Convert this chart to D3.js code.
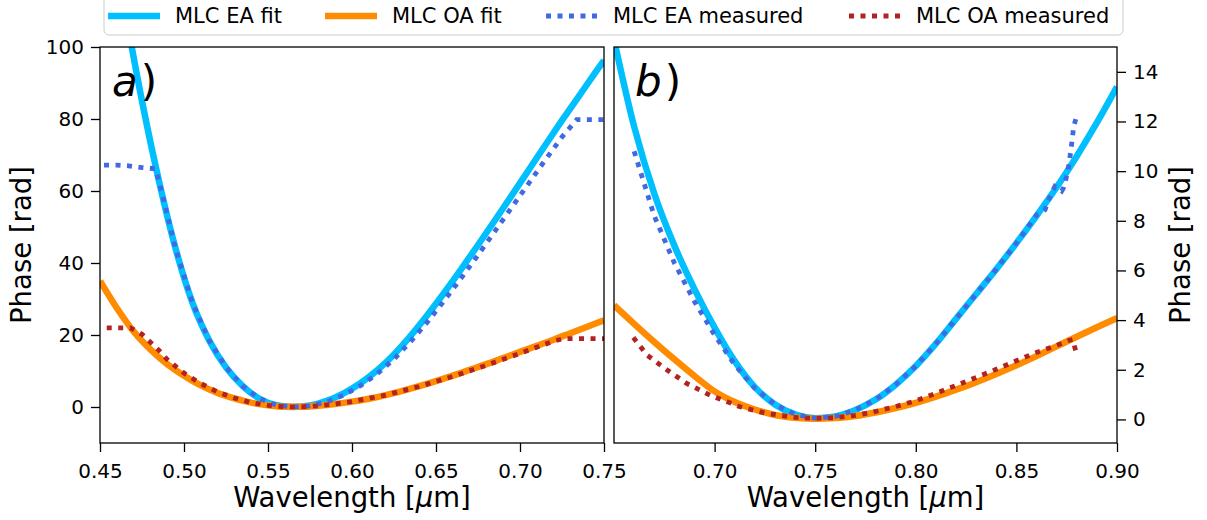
<!DOCTYPE html>
<html>
<head>
<meta charset="utf-8">
<script src="https://cdn.jsdelivr.net/npm/d3@7"></script>
<style>
  body { margin: 0; background: #fff; }
  svg { display: block; font-family: "DejaVu Sans", sans-serif; }
</style>
</head>
<body>
<div id="chart"></div>
<script>
// panel a) data, wavelength in um, phase in rad
const wlEaFitA = [0.45, 0.455, 0.465, 0.475, 0.485, 0.495, 0.505, 0.515, 0.525, 0.535, 0.545, 0.555, 0.565,
  0.575, 0.585, 0.595, 0.605, 0.615, 0.625, 0.635, 0.645, 0.655, 0.665, 0.675, 0.685, 0.695, 0.705, 0.715,
  0.725, 0.735, 0.745, 0.75];
const eaFitA = [165, 137, 110, 85, 63, 44, 29, 18.5, 11, 5.8, 2.3, 0.5, 0,
  0.4, 1.7, 3.8, 6.6, 10.2, 14.6, 19.8, 25.6, 31.8, 38.3, 45, 51.8, 58.7, 65.7, 72.7,
  79.6, 86.3, 93.0, 96.3];

const wlOaFitA = [0.45, 0.46, 0.47, 0.48, 0.49, 0.50, 0.51, 0.52, 0.53, 0.54, 0.55, 0.56, 0.57, 0.58, 0.59, 0.60,
  0.61, 0.62, 0.63, 0.64, 0.65, 0.66, 0.67, 0.68, 0.69, 0.70, 0.71, 0.72, 0.73, 0.74, 0.75];
const oaFitA = [35, 27.5, 21, 16.0, 11.9, 8.7, 6.0, 3.9, 2.4, 1.2, 0.45, 0.05, 0.05, 0.35, 0.85, 1.5,
  2.3, 3.3, 4.5, 5.8, 7.2, 8.7, 10.3, 11.9, 13.6, 15.3, 17.0, 18.7, 20.5, 22.3, 24.1];

const wlEaMeasA = [0.4524, 0.46, 0.467, 0.475, 0.4827, 0.485, 0.495, 0.505, 0.515, 0.525, 0.535, 0.545, 0.555, 0.565,
  0.575, 0.585, 0.595, 0.605, 0.615, 0.625, 0.635, 0.645, 0.655, 0.665, 0.675, 0.685, 0.695, 0.705, 0.715,
  0.725, 0.7337, 0.75];
const eaMeasA = [67.2, 67.2, 67, 66.5, 66.2, 63, 44, 29, 18.5, 11, 5.8, 2.3, 0.5, 0,
  0.3, 1.4, 3.3, 5.9, 9.2, 13.3, 18.2, 23.7, 29.6, 35.8, 42.2, 48.8, 55.4, 62.0, 68.6,
  75.0, 79.8, 79.8];

const wlOaMeasA = [0.454, 0.46, 0.468, 0.475, 0.48, 0.485, 0.49, 0.50, 0.51, 0.52, 0.53, 0.54, 0.55, 0.56, 0.57, 0.58,
  0.59, 0.60, 0.62, 0.64, 0.66, 0.68, 0.70, 0.71, 0.72, 0.726, 0.75];
const oaMeasA = [22, 22, 22, 20.2, 18, 15.8, 13.2, 9.4, 6.5, 4.2, 2.5, 1.2, 0.45, 0.05, 0.05, 0.35,
  0.85, 1.5, 3.3, 5.7, 8.5, 11.6, 14.9, 16.6, 18.3, 19, 19];

// panel b) data
const wlFitB = [0.65, 0.66, 0.67, 0.68, 0.69, 0.70, 0.71, 0.72, 0.73, 0.74, 0.75, 0.76, 0.77, 0.78, 0.79, 0.80,
  0.81, 0.82, 0.83, 0.84, 0.85, 0.86, 0.87, 0.88, 0.89, 0.90];
const eaFitB = [15.3, 11.8, 9.1, 7.0, 5.25, 3.7, 2.35, 1.3, 0.6, 0.2, 0.05, 0.12, 0.38, 0.8, 1.4, 2.15,
  3.05, 4.05, 5.05, 6.05, 7.1, 8.2, 9.35, 10.6, 11.95, 13.4];
const oaFitB = [4.6, 3.85, 3.12, 2.42, 1.75, 1.13, 0.7, 0.4, 0.18, 0.07, 0.03, 0.06, 0.14, 0.28, 0.46, 0.67,
  0.92, 1.2, 1.5, 1.83, 2.18, 2.55, 2.94, 3.33, 3.71, 4.08];

const wlEaMeasB = [0.66, 0.67, 0.68, 0.69, 0.70, 0.71, 0.72, 0.73, 0.74, 0.75, 0.76, 0.77, 0.78, 0.79, 0.80,
  0.81, 0.82, 0.83, 0.84, 0.85, 0.8601, 0.8642, 0.8667, 0.8691, 0.8725, 0.8733, 0.8749, 0.8762, 0.8774, 0.8785, 0.8798];
const eaMeasB = [10.8, 8.2, 6.3, 4.75, 3.4, 2.2, 1.25, 0.6, 0.2, 0.05, 0.12, 0.38, 0.8, 1.4, 2.15,
  3.05, 4.05, 5.05, 6.05, 7.1, 8.24, 8.44, 8.98, 9.38, 9.2, 9.31, 9.78, 10.3, 11.06, 11.8, 12.18];

const wlOaMeasB = [0.6596, 0.6663, 0.6762, 0.6861, 0.6977, 0.7126, 0.7258, 0.74, 0.75, 0.76, 0.77, 0.78, 0.79, 0.80,
  0.81, 0.82, 0.83, 0.84, 0.85, 0.86, 0.87, 0.876, 0.878, 0.8798];
const oaMeasB = [3.3, 2.6, 2.0, 1.45, 0.98, 0.51, 0.24, 0.08, 0.04, 0.07, 0.16, 0.32, 0.52, 0.75,
  1.05, 1.37, 1.69, 2.02, 2.36, 2.7, 2.98, 3.18, 3.22, 2.66];

// ticks
const xTicksA = [0.45, 0.50, 0.55, 0.60, 0.65, 0.70, 0.75];
const yTicksA = [0, 20, 40, 60, 80, 100];
const xTicksB = [0.70, 0.75, 0.80, 0.85, 0.90];
const yTicksB = [0, 2, 4, 6, 8, 10, 12, 14];

const legendNames = ['MLC EA fit', 'MLC OA fit', 'MLC EA measured', 'MLC OA measured'];
const colors = { ea: '#00bfff', oa: '#ff8c00', eaMeas: '#4169e1', oaMeas: '#b22222' };

const W = 1207, H = 520;
const plotTop = 47, plotBottom = 443;
const fitWidth = 6.5, measWidth = 4.8, dots = '5 6.5';

const svg = d3.select('#chart').append('svg')
  .attr('width', W).attr('height', H);

const zip = (xs, ys) => xs.map((x, i) => ({ x: x, y: ys[i] }));

function drawPanel(cfg) {
  const x = d3.scaleLinear().domain(cfg.xDomain).range(cfg.xRange);
  const y = d3.scaleLinear().domain(cfg.yDomain).range([plotBottom, plotTop]);

  const g = svg.append('g');
  g.append('clipPath').attr('id', 'clip-' + cfg.id)
    .append('rect')
    .attr('x', cfg.xRange[0]).attr('y', plotTop)
    .attr('width', cfg.xRange[1] - cfg.xRange[0]).attr('height', plotBottom - plotTop);

  const plot = g.append('g').attr('clip-path', `url(#clip-${cfg.id})`);
  const smooth = d3.line().x(d => x(d.x)).y(d => y(d.y)).curve(d3.curveMonotoneX);
  const straight = d3.line().x(d => x(d.x)).y(d => y(d.y));

  plot.append('path').attr('d', smooth(cfg.eaFit))
    .attr('fill', 'none').attr('stroke', colors.ea).attr('stroke-width', fitWidth);
  plot.append('path').attr('d', smooth(cfg.oaFit))
    .attr('fill', 'none').attr('stroke', colors.oa).attr('stroke-width', fitWidth);
  plot.append('path').attr('d', straight(cfg.eaMeas))
    .attr('fill', 'none').attr('stroke', colors.eaMeas).attr('stroke-width', measWidth)
    .attr('stroke-dasharray', dots);
  plot.append('path').attr('d', straight(cfg.oaMeas))
    .attr('fill', 'none').attr('stroke', colors.oaMeas).attr('stroke-width', measWidth)
    .attr('stroke-dasharray', dots);

  // x axis
  const xAxis = g.append('g').attr('transform', `translate(0,${plotBottom})`)
    .call(d3.axisBottom(x).tickValues(cfg.xTicks).tickFormat(d3.format('.2f'))
      .tickSize(9).tickPadding(7).tickSizeOuter(0));
  // y axis
  const yAxis = cfg.yRight
    ? g.append('g').attr('transform', `translate(${cfg.xRange[1]},0)`)
        .call(d3.axisRight(y).tickValues(cfg.yTicks).tickSize(9).tickPadding(7).tickSizeOuter(0))
    : g.append('g').attr('transform', `translate(${cfg.xRange[0]},0)`)
        .call(d3.axisLeft(y).tickValues(cfg.yTicks).tickSize(9).tickPadding(7).tickSizeOuter(0));

  [xAxis, yAxis].forEach(a => {
    a.select('.domain').remove();
    a.selectAll('line').attr('stroke', '#000').attr('stroke-width', 1.3);
    a.selectAll('text').attr('fill', '#000')
      .style('font-family', '"DejaVu Sans", sans-serif').style('font-size', '20px');
  });
  xAxis.selectAll('text').attr('dy', '0.95em');

  // frame
  g.append('rect')
    .attr('x', cfg.xRange[0]).attr('y', plotTop)
    .attr('width', cfg.xRange[1] - cfg.xRange[0]).attr('height', plotBottom - plotTop)
    .attr('fill', 'none').attr('stroke', '#000').attr('stroke-width', 1.3);

  // panel letter
  const lab = g.append('text')
    .attr('x', cfg.letterX).attr('y', 96)
    .style('font-size', '42px');
  lab.append('tspan').style('font-style', 'italic').text(cfg.letter);
  lab.append('tspan').attr('dx', 3).text(')');

  // x label
  const xl = g.append('text')
    .attr('x', (cfg.xRange[0] + cfg.xRange[1]) / 2).attr('y', 507)
    .attr('text-anchor', 'middle').style('font-size', '27.5px');
  xl.append('tspan').text('Wavelength [');
  xl.append('tspan').style('font-style', 'italic').text('\u03bc');
  xl.append('tspan').text('m]');

  // y label
  g.append('text')
    .attr('transform', `translate(${cfg.yLabelX},${(plotTop + plotBottom) / 2}) rotate(-90)`)
    .attr('text-anchor', 'middle').style('font-size', '27.5px')
    .text('Phase [rad]');
}

drawPanel({
  id: 'a', letter: 'a', letterX: 112,
  xDomain: [0.45, 0.75], xRange: [100, 604],
  yDomain: [-10, 100], yRight: false, yLabelX: 31,
  xTicks: xTicksA, yTicks: yTicksA,
  eaFit: zip(wlEaFitA, eaFitA), oaFit: zip(wlOaFitA, oaFitA),
  eaMeas: zip(wlEaMeasA, eaMeasA), oaMeas: zip(wlOaMeasA, oaMeasA)
});

drawPanel({
  id: 'b', letter: 'b', letterX: 635,
  xDomain: [0.65, 0.90], xRange: [614, 1117],
  yDomain: [-0.95, 15.0], yRight: true, yLabelX: 1190,
  xTicks: xTicksB, yTicks: yTicksB,
  eaFit: zip(wlFitB, eaFitB), oaFit: zip(wlFitB, oaFitB),
  eaMeas: zip(wlEaMeasB, eaMeasB), oaMeas: zip(wlOaMeasB, oaMeasB)
});

// legend
const legend = svg.append('g');
legend.append('rect')
  .attr('x', 104).attr('y', -6).attr('width', 1019).attr('height', 41).attr('rx', 5)
  .attr('fill', '#fff').attr('fill-opacity', 0.8).attr('stroke', '#cccccc').attr('stroke-width', 1);

const legendX = [108, 325, 546, 849];
const legendStyles = [
  { c: colors.ea, w: fitWidth, dash: null },
  { c: colors.oa, w: fitWidth, dash: null },
  { c: colors.eaMeas, w: measWidth, dash: dots },
  { c: colors.oaMeas, w: measWidth, dash: dots }
];
legendNames.forEach((name, i) => {
  const s = legendStyles[i];
  legend.append('line')
    .attr('x1', legendX[i]).attr('x2', legendX[i] + 52)
    .attr('y1', 16).attr('y2', 16)
    .attr('stroke', s.c).attr('stroke-width', s.w)
    .attr('stroke-dasharray', s.dash);
  legend.append('text')
    .attr('x', legendX[i] + 67).attr('y', 16).attr('dy', '0.35em')
    .style('font-size', '21px')
    .text(name);
});
</script>
</body>
</html>
